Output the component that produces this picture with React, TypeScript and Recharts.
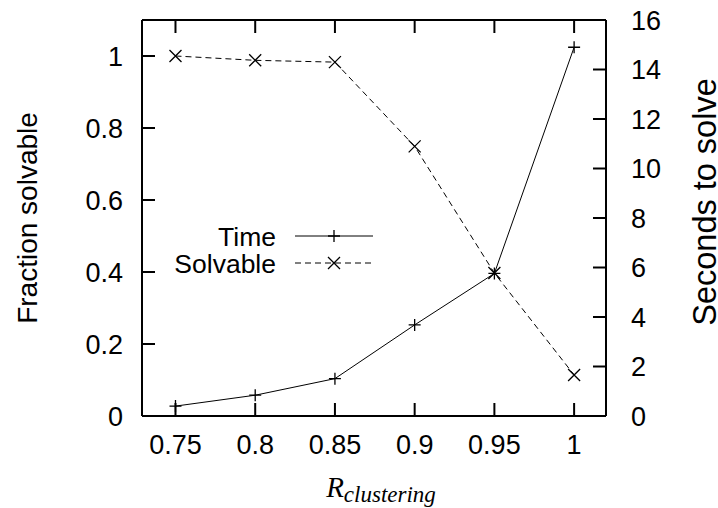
import React from 'react';
import { LineChart, Line, XAxis, YAxis } from 'recharts';

const rValues = [0.75, 0.8, 0.85, 0.9, 0.95, 1];
const timeSeconds = [0.4, 0.84, 1.51, 3.68, 5.76, 14.9];
const fractionSolvable = [1.0, 0.988, 0.983, 0.749, 0.397, 0.114];
const xTicks = [0.75, 0.8, 0.85, 0.9, 0.95, 1];
const leftTicks = [0, 0.2, 0.4, 0.6, 0.8, 1];
const rightTicks = [0, 2, 4, 6, 8, 10, 12, 14, 16];
const seriesNames = ['Time', 'Solvable'];

const data = rValues.map((r, i) => ({ r, time: timeSeconds[i], solvable: fractionSolvable[i] }));

const FONT = '"Liberation Sans", Arial, Helvetica, sans-serif';
const tickStyle = { fontFamily: FONT, fontSize: 27, fill: '#000' };

const PlusDot = (props: any) => {
  const { cx, cy, index } = props;
  if (cx == null || cy == null) return <g key={index} />;
  return (
    <path key={index} d={`M${cx - 6},${cy}H${cx + 6}M${cx},${cy - 6}V${cy + 6}`} stroke="#000" strokeWidth={1.3} fill="none" />
  );
};

const CrossDot = (props: any) => {
  const { cx, cy, index } = props;
  if (cx == null || cy == null) return <g key={index} />;
  return (
    <path key={index} d={`M${cx - 6},${cy - 6}L${cx + 6},${cy + 6}M${cx - 6},${cy + 6}L${cx + 6},${cy - 6}`} stroke="#000" strokeWidth={1.3} fill="none" />
  );
};

const LegendOverlay = () => {
  return (
    <svg width={200} height={60} style={{ overflow: 'visible', display: 'block', position: 'absolute', left: 180, top: 220 }}>
      {seriesNames.map((name, i) => {
        const y = 16 + i * 27;
        return (
          <g key={name}>
            <text x={96} y={y} dy="0.36em" textAnchor="end" fontFamily={FONT} fontSize={26.5} fill="#000">{name}</text>
            <line x1={115} x2={193} y1={y} y2={y} stroke="#000" strokeWidth={1} strokeDasharray={i === 1 ? '6 4' : undefined} />
            {i === 0 ? <PlusDot cx={154} cy={y} index={0} /> : <CrossDot cx={154} cy={y} index={0} />}
          </g>
        );
      })}
    </svg>
  );
};

const XLabel = (props: any) => {
  const { viewBox } = props;
  const cx = viewBox.x + viewBox.width / 2;
  return (
    <text x={cx + 7} y={viewBox.y + 81} textAnchor="middle" fontFamily='"Liberation Serif", "Times New Roman", serif' fontStyle="italic" fill="#000">
      <tspan fontSize={29}>R</tspan>
      <tspan fontSize={23} dy={5}>clustering</tspan>
    </text>
  );
};

const LeftLabel = (props: any) => {
  const { viewBox } = props;
  const x = 27;
  const y = viewBox.y + viewBox.height / 2;
  return (
    <text x={x} y={y} transform={`rotate(-90 ${x} ${y})`} textAnchor="middle" dy="0.36em" fontFamily={FONT} fontSize={28} fill="#000">
      Fraction solvable
    </text>
  );
};

const RightLabel = (props: any) => {
  const { viewBox } = props;
  const x = viewBox.x + 98;
  const y = viewBox.y + viewBox.height / 2 - 16;
  return (
    <text x={x} y={y} transform={`rotate(-90 ${x} ${y})`} textAnchor="middle" dy="0.36em" fontFamily={FONT} fontSize={32.5} fill="#000">
      Seconds to solve
    </text>
  );
};

export default function App() {
  const xDomain: [number, number] = [0.729, 1.02];
  return (
    <div style={{ width: 718, height: 508, background: '#fff', position: 'relative' }}>
      <style>{`body{margin:0;background:#fff}`}</style>
      <LineChart width={718} height={508} data={data} margin={{ top: 20, right: 0, bottom: 0, left: 0 }}>
        <XAxis
          xAxisId="x"
          dataKey="r"
          type="number"
          domain={xDomain}
          ticks={xTicks}
          allowDataOverflow
          height={92}
          tickLine={false}
          tickSize={0}
          tickMargin={19}
          axisLine={{ stroke: '#000', strokeWidth: 2 }}
          tick={tickStyle}
          label={<XLabel />}
        />
        <XAxis
          xAxisId="xin"
          dataKey="r"
          type="number"
          domain={xDomain}
          ticks={xTicks}
          allowDataOverflow
          mirror
          axisLine={false}
          tickSize={13}
          tickLine={{ stroke: '#000', strokeWidth: 2 }}
          tickFormatter={() => ''}
        />
        <XAxis
          xAxisId="xtop"
          orientation="top"
          dataKey="r"
          type="number"
          domain={xDomain}
          ticks={xTicks}
          allowDataOverflow
          mirror
          axisLine={{ stroke: '#000', strokeWidth: 2 }}
          tickSize={13}
          tickLine={{ stroke: '#000', strokeWidth: 2 }}
          tickFormatter={() => ''}
        />
        <YAxis
          yAxisId="left"
          type="number"
          domain={[0, 1.1]}
          ticks={leftTicks}
          allowDataOverflow
          width={142}
          tickLine={false}
          tickSize={0}
          tickMargin={19}
          axisLine={{ stroke: '#000', strokeWidth: 2 }}
          tick={tickStyle}
          label={<LeftLabel />}
        />
        <YAxis
          yAxisId="leftin"
          type="number"
          domain={[0, 1.1]}
          ticks={leftTicks}
          allowDataOverflow
          mirror
          axisLine={false}
          tickSize={13}
          tickLine={{ stroke: '#000', strokeWidth: 2 }}
          tickFormatter={() => ''}
        />
        <YAxis
          yAxisId="right"
          orientation="right"
          type="number"
          domain={[0, 16]}
          ticks={rightTicks}
          allowDataOverflow
          width={112}
          tickLine={false}
          tickSize={0}
          tickMargin={25}
          axisLine={{ stroke: '#000', strokeWidth: 2 }}
          tick={{ ...tickStyle, textAnchor: 'start' }}
          label={<RightLabel />}
        />
        <YAxis
          yAxisId="rightin"
          orientation="right"
          type="number"
          domain={[0, 16]}
          ticks={rightTicks}
          allowDataOverflow
          mirror
          axisLine={false}
          tickSize={13}
          tickLine={{ stroke: '#000', strokeWidth: 2 }}
          tickFormatter={() => ''}
        />
        <Line
          xAxisId="x"
          yAxisId="right"
          dataKey="time"
          name={seriesNames[0]}
          stroke="#000"
          strokeWidth={1}
          dot={<PlusDot />}
          activeDot={false}
          isAnimationActive={false}
        />
        <Line
          xAxisId="x"
          yAxisId="left"
          dataKey="solvable"
          name={seriesNames[1]}
          stroke="#000"
          strokeWidth={1}
          strokeDasharray="6 4"
          dot={<CrossDot />}
          activeDot={false}
          isAnimationActive={false}
        />
      </LineChart>
      <LegendOverlay />
    </div>
  );
}
